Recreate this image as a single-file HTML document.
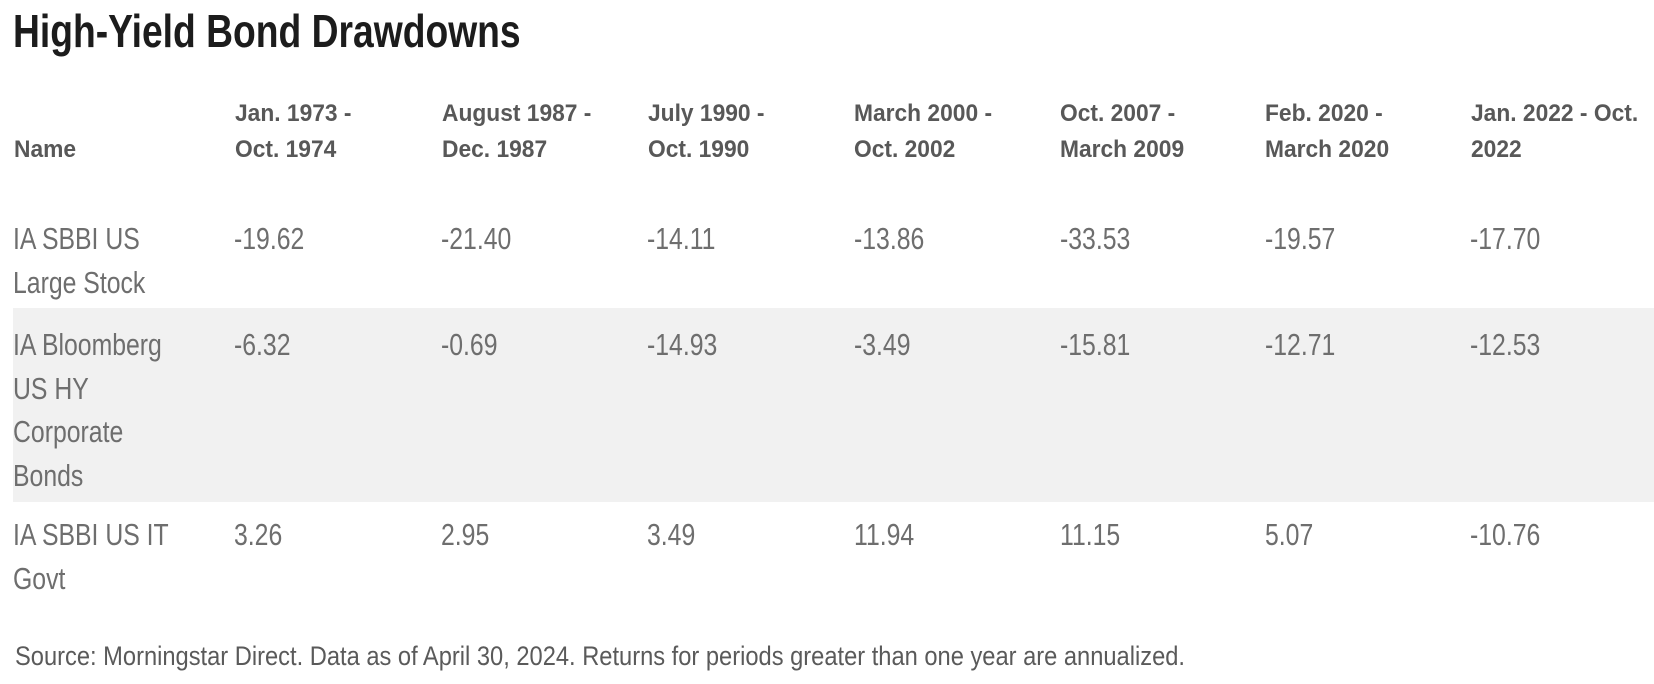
<!DOCTYPE html>
<html>
<head>
<meta charset="utf-8">
<style>
  html, body { margin: 0; padding: 0; background: #ffffff; }
  body { width: 1654px; height: 684px; overflow: hidden; }
  svg { display: block; }
  .title { font-family: "Liberation Sans", sans-serif; font-weight: bold; font-size: 46px; fill: #1c1c1c; }
  .hdr { font-family: "Liberation Sans", sans-serif; font-weight: bold; font-size: 24px; fill: #585858; }
  .body { font-family: "Liberation Sans", sans-serif; font-size: 31px; fill: #6e6e6e; }
  .foot { font-family: "Liberation Sans", sans-serif; font-size: 27px; fill: #5a5a5a; }
</style>
</head>
<body>
<svg width="1654" height="684" viewBox="0 0 1654 684" xmlns="http://www.w3.org/2000/svg">
  <rect x="0" y="0" width="1654" height="684" fill="#ffffff"/>
  <!-- gray band row 2 -->
  <rect x="13" y="308" width="1641" height="194" fill="#f1f1f1"/>

  <!-- Title -->
  <text class="title" transform="translate(13,47) scale(0.81,1)">High-Yield Bond Drawdowns</text>

  <!-- Header -->
  <text class="hdr" transform="translate(14,157) scale(0.95,1)">Name</text>

  <text class="hdr" transform="translate(235,121) scale(0.95,1)">Jan. 1973 -</text>
  <text class="hdr" transform="translate(235,157) scale(0.95,1)">Oct. 1974</text>

  <text class="hdr" transform="translate(442,121) scale(0.95,1)">August 1987 -</text>
  <text class="hdr" transform="translate(442,157) scale(0.95,1)">Dec. 1987</text>

  <text class="hdr" transform="translate(648,121) scale(0.95,1)">July 1990 -</text>
  <text class="hdr" transform="translate(648,157) scale(0.95,1)">Oct. 1990</text>

  <text class="hdr" transform="translate(854,121) scale(0.95,1)">March 2000 -</text>
  <text class="hdr" transform="translate(854,157) scale(0.95,1)">Oct. 2002</text>

  <text class="hdr" transform="translate(1060,121) scale(0.95,1)">Oct. 2007 -</text>
  <text class="hdr" transform="translate(1060,157) scale(0.95,1)">March 2009</text>

  <text class="hdr" transform="translate(1265,121) scale(0.95,1)">Feb. 2020 -</text>
  <text class="hdr" transform="translate(1265,157) scale(0.95,1)">March 2020</text>

  <text class="hdr" transform="translate(1471,121) scale(0.95,1)">Jan. 2022 - Oct.</text>
  <text class="hdr" transform="translate(1471,157) scale(0.95,1)">2022</text>

  <!-- Row 1 -->
  <text class="body" transform="translate(13,249) scale(0.8,1)">IA SBBI US</text>
  <text class="body" transform="translate(13,293) scale(0.8,1)">Large Stock</text>
  <text class="body" transform="translate(234,249) scale(0.8,1)">-19.62</text>
  <text class="body" transform="translate(441,249) scale(0.8,1)">-21.40</text>
  <text class="body" transform="translate(647,249) scale(0.8,1)">-14.11</text>
  <text class="body" transform="translate(854,249) scale(0.8,1)">-13.86</text>
  <text class="body" transform="translate(1060,249) scale(0.8,1)">-33.53</text>
  <text class="body" transform="translate(1265,249) scale(0.8,1)">-19.57</text>
  <text class="body" transform="translate(1470,249) scale(0.8,1)">-17.70</text>

  <!-- Row 2 -->
  <text class="body" transform="translate(13,355) scale(0.8,1)">IA Bloomberg</text>
  <text class="body" transform="translate(13,399) scale(0.8,1)">US HY</text>
  <text class="body" transform="translate(13,442) scale(0.8,1)">Corporate</text>
  <text class="body" transform="translate(13,486) scale(0.8,1)">Bonds</text>
  <text class="body" transform="translate(234,355) scale(0.8,1)">-6.32</text>
  <text class="body" transform="translate(441,355) scale(0.8,1)">-0.69</text>
  <text class="body" transform="translate(647,355) scale(0.8,1)">-14.93</text>
  <text class="body" transform="translate(854,355) scale(0.8,1)">-3.49</text>
  <text class="body" transform="translate(1060,355) scale(0.8,1)">-15.81</text>
  <text class="body" transform="translate(1265,355) scale(0.8,1)">-12.71</text>
  <text class="body" transform="translate(1470,355) scale(0.8,1)">-12.53</text>

  <!-- Row 3 -->
  <text class="body" transform="translate(13,545) scale(0.8,1)">IA SBBI US IT</text>
  <text class="body" transform="translate(13,589) scale(0.8,1)">Govt</text>
  <text class="body" transform="translate(234,545) scale(0.8,1)">3.26</text>
  <text class="body" transform="translate(441,545) scale(0.8,1)">2.95</text>
  <text class="body" transform="translate(647,545) scale(0.8,1)">3.49</text>
  <text class="body" transform="translate(854,545) scale(0.8,1)">11.94</text>
  <text class="body" transform="translate(1060,545) scale(0.8,1)">11.15</text>
  <text class="body" transform="translate(1265,545) scale(0.8,1)">5.07</text>
  <text class="body" transform="translate(1470,545) scale(0.8,1)">-10.76</text>

  <!-- Footer -->
  <text class="foot" x="15" y="665" textLength="1170" lengthAdjust="spacingAndGlyphs">Source: Morningstar Direct. Data as of April 30, 2024. Returns for periods greater than one year are annualized.</text>
</svg>
</body>
</html>
